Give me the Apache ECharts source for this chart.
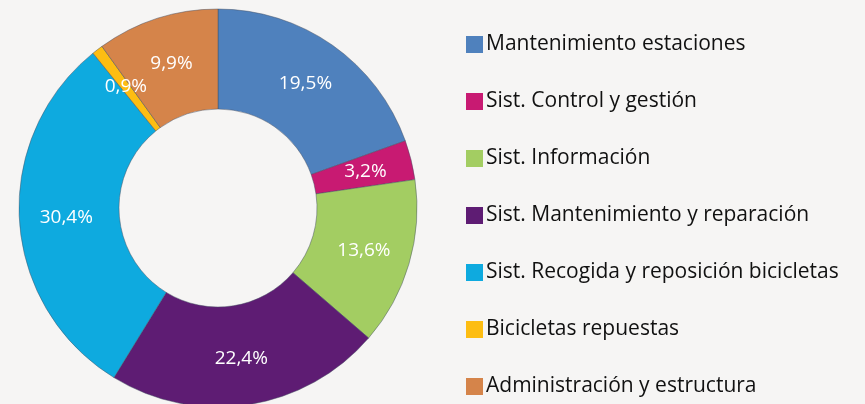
<!DOCTYPE html>
<html>
<head>
<meta charset="utf-8">
<script src="https://cdn.jsdelivr.net/npm/echarts@6/dist/echarts.min.js"></script>
<style>
  html, body { margin: 0; padding: 0; background: #f6f5f4; }
  #main { width: 865px; height: 404px; }
</style>
</head>
<body>
<div id="main"></div>
<script>
var categories = [
    "Mantenimiento estaciones",
    "Sist. Control y gestión",
    "Sist. Información",
    "Sist. Mantenimiento y reparación",
    "Sist. Recogida y reposición bicicletas",
    "Bicicletas repuestas",
    "Administración y estructura"
];
var shares = [19.5, 3.2, 13.6, 22.4, 30.4, 0.9, 9.9];
var colors = ["#4f81bd", "#c81a72", "#a3cd62", "#5e1c73", "#0eaadf", "#fdbd12", "#d5844a"];

var myChart = echarts.init(document.getElementById('main'));
var pieData = categories.map(function(name, i){
    return { name: name, value: shares[i], itemStyle: { color: colors[i] } };
});
var option = {
    backgroundColor: '#f6f5f4',
    animation: false,
    legend: {
        orient: 'vertical',
        left: 466,
        top: 34,
        padding: 0,
        height: 400,
        icon: 'rect',
        itemWidth: 17,
        itemHeight: 17,
        itemGap: 36,
        itemStyle: { borderWidth: 0 },
        textStyle: {
            fontFamily: 'Open Sans',
            fontSize: 21,
            color: '#111',
            lineHeight: 17,
            padding: [0, 0, 0, -2]
        },
        data: categories
    },
    series: [{
        type: 'pie',
        center: [218, 208],
        radius: [99, 199],
        startAngle: 90,
        clockwise: true,
        avoidLabelOverlap: false,
        itemStyle: {
            borderColor: 'rgba(70,80,100,0.6)',
            borderWidth: 0.8
        },
        label: {
            show: true,
            position: 'inside',
            color: '#fff',
            fontFamily: 'Open Sans',
            fontSize: 19,
            formatter: function(p){
                return p.value.toFixed(1).replace('.', ',') + '%';
            }
        },
        labelLine: { show: false },
        emphasis: { disabled: true },
        data: pieData
    }]
};
myChart.setOption(option);
</script>
</body>
</html>
